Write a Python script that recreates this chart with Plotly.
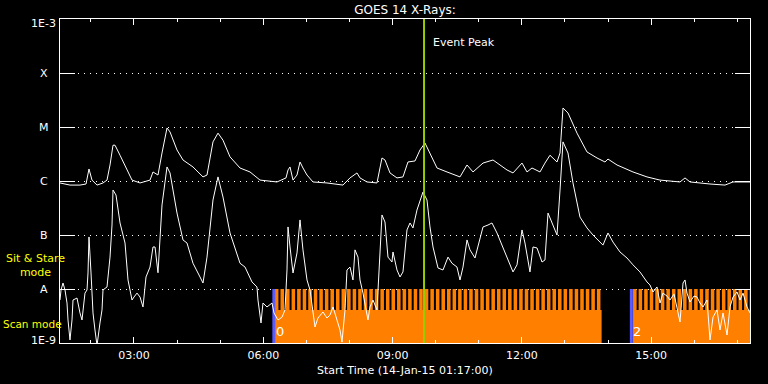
import numpy as np
import pandas as pd
import plotly.graph_objects as go

# ---------------- data (UT hours on 14-Jan-2015, flux in W/m^2) ----------------
BASE = pd.Timestamp("2015-01-14")
start_hour = 1 + 17 / 60          # 01:17:00
end_hour = 17.293

long_hours = [1.283, 1.515, 1.747, 1.887, 1.956, 2.026, 2.142, 2.281, 2.374, 2.444, 2.513, 2.560,
              2.676, 2.838, 2.954, 3.140, 3.372, 3.441, 3.557, 3.650, 3.766, 3.836, 3.998, 4.137,
              4.369, 4.601, 4.694, 4.833, 4.949, 5.065, 5.228, 5.460, 5.692, 5.924, 6.318, 6.527,
              6.574, 6.620, 6.690, 6.782, 6.852, 6.921, 7.014, 7.153, 7.478, 7.849, 8.012, 8.174,
              8.244, 8.406, 8.638, 8.754, 8.824, 8.940, 9.102, 9.241, 9.357, 9.520, 9.636, 9.752,
              9.868, 10.031, 10.263, 10.564, 10.727, 10.866, 11.098, 11.330, 11.655, 11.794, 12.003,
              12.119, 12.235, 12.421, 12.536, 12.652, 12.815, 12.885, 12.954, 13.070, 13.279, 13.511,
              13.743, 13.928, 13.998, 14.207, 14.578, 14.903, 15.205, 15.669, 15.785, 15.901, 16.365,
              16.713, 16.899, 17.293]
long_flux = [9.2e-7, 8.4e-7, 8.4e-7, 8.8e-7, 1.67e-6, 1.04e-6, 8.4e-7, 9.2e-7, 1.04e-6, 1.98e-6, 4.6e-6, 4.6e-6,
             3.0e-6, 1.60e-6, 1.04e-6, 9.2e-7, 1.04e-6, 1.47e-6, 1.29e-6, 3.3e-6, 9.6e-6, 8.1e-6, 3.75e-6, 2.45e-6,
             1.82e-6, 1.19e-6, 1.29e-6, 5.3e-6, 7.7e-6, 5.7e-6, 2.8e-6, 1.74e-6, 1.47e-6, 1.04e-6, 9.6e-7, 1.14e-6,
             1.60e-6, 1.82e-6, 1.04e-6, 1.29e-6, 2.25e-6, 1.74e-6, 1.29e-6, 9.6e-7, 9.2e-7, 8.4e-7, 1.14e-6, 1.41e-6,
             1.14e-6, 9.6e-7, 9.2e-7, 2.67e-6, 2.45e-6, 1.41e-6, 1.14e-6, 1.19e-6, 2.25e-6, 2.35e-6, 3.75e-6, 5.05e-6,
             3.3e-6, 1.74e-6, 1.47e-6, 1.19e-6, 1.98e-6, 1.47e-6, 2.15e-6, 2.45e-6, 1.60e-6, 1.41e-6, 2.15e-6,
             1.47e-6, 1.74e-6, 1.47e-6, 2.15e-6, 3.0e-6, 2.25e-6, 3.3e-6, 2.25e-5, 1.82e-5, 7.7e-6, 3.45e-6,
             2.67e-6, 2.25e-6, 2.55e-6, 1.98e-6, 1.47e-6, 1.19e-6, 1.04e-6, 9.6e-7, 1.14e-6, 9.6e-7, 8.8e-7,
             8.4e-7, 9.6e-7, 9.6e-7]

short_hours = [1.283, 1.307, 1.353, 1.399, 1.446, 1.469, 1.515, 1.562, 1.585, 1.678, 1.747, 1.794, 1.863,
               1.910, 1.933, 1.956, 2.003, 2.049, 2.095, 2.142, 2.211, 2.258, 2.281, 2.374, 2.444, 2.490,
               2.513, 2.583, 2.676, 2.792, 2.861, 2.907, 2.954, 3.000, 3.070, 3.140, 3.209, 3.279, 3.372,
               3.441, 3.488, 3.557, 3.650, 3.766, 3.836, 3.998, 4.137, 4.230, 4.369, 4.532, 4.601, 4.694,
               4.833, 4.949, 5.065, 5.228, 5.460, 5.576, 5.738, 5.854, 5.877, 5.947, 5.993, 6.086, 6.202,
               6.249, 6.341, 6.434, 6.504, 6.550, 6.574, 6.620, 6.690, 6.782, 6.852, 6.921, 7.014, 7.084,
               7.153, 7.200, 7.269, 7.385, 7.478, 7.548, 7.618, 7.710, 7.780, 7.826, 7.896, 7.942, 8.012,
               8.081, 8.128, 8.197, 8.244, 8.313, 8.406, 8.429, 8.476, 8.545, 8.638, 8.708, 8.754, 8.824,
               8.893, 8.986, 9.009, 9.102, 9.172, 9.241, 9.334, 9.404, 9.473, 9.566, 9.636, 9.705, 9.798,
               9.868, 9.938, 10.054, 10.170, 10.286, 10.378, 10.494, 10.564, 10.634, 10.727, 10.796, 10.912,
               10.982, 11.098, 11.214, 11.306, 11.422, 11.655, 11.794, 11.887, 12.003, 12.072, 12.188,
               12.258, 12.351, 12.467, 12.536, 12.606, 12.722, 12.815, 12.885, 12.954, 13.070, 13.186,
               13.348, 13.511, 13.650, 13.812, 13.882, 13.998, 14.114, 14.276, 14.439, 14.578, 14.740,
               14.903, 14.972, 15.042, 15.135, 15.205, 15.274, 15.367, 15.437, 15.530, 15.600, 15.669,
               15.739, 15.785, 15.832, 15.901, 15.994, 16.063, 16.133, 16.203, 16.296, 16.365, 16.435,
               16.528, 16.597, 16.667, 16.760, 16.829, 16.899, 16.992, 17.061, 17.131, 17.224, 17.293]
short_flux = [6.25e-9, 9.6e-9, 1.29e-8, 9.6e-9, 5.5e-9, 2.67e-9, 1.14e-9, 2.67e-9, 6.25e-9, 6.8e-9, 3.6e-9, 2.67e-9, 8.4e-9,
              9.6e-9, 1.98e-8, 9.2e-8, 1.98e-8, 3.6e-9, 1.74e-9, 9e-10, 2.35e-9, 4.1e-9, 9.6e-9, 1.09e-8, 3.9e-8, 1.53e-7,
              6.8e-7, 5.5e-7, 1.67e-7, 7.1e-8, 1.47e-8, 9.6e-9, 6.25e-9, 7.1e-9, 8.4e-9, 7.1e-9, 4.65e-9, 1.67e-8, 2.55e-8,
              6.0e-8, 6.0e-8, 2.0e-8, 3.6e-7, 1.82e-6, 1.41e-6, 2.55e-7, 8.1e-8, 7.1e-8, 3.0e-8, 1.67e-8, 1.29e-8, 3.9e-8,
              4.45e-7, 1.19e-6, 5.05e-7, 1.09e-7, 3.0e-8, 2.55e-8, 1.35e-8, 1.09e-8, 6.25e-9, 2.35e-9, 5.5e-9, 4.65e-9, 5.5e-9,
              3.6e-9, 2.67e-9, 3.0e-9, 4.1e-9, 2.25e-8, 1.41e-7, 6.0e-8, 1.98e-8, 4.65e-8, 1.9e-7, 5.3e-8, 1.47e-8, 9.6e-9,
              3.3e-9, 1.98e-9, 2.9e-9, 3.75e-9, 2.9e-9, 3.3e-9, 4.65e-9, 2.67e-9, 1.74e-9, 1.04e-9, 4.1e-9, 2.25e-8, 2.55e-8,
              1.47e-8, 5.3e-8, 3.9e-8, 1.47e-8, 8.4e-9, 3.6e-9, 2.67e-9, 4.65e-9, 6.25e-9, 4.1e-9, 3.45e-8, 2.35e-7, 1.74e-7,
              3.9e-8, 3.16e-8, 4.85e-8, 2.25e-8, 1.67e-8, 2.07e-8, 1.24e-7, 1.67e-7, 1.35e-7, 2.9e-7, 4.45e-7, 6.25e-7, 4.45e-7,
              1.41e-7, 6.0e-8, 2.45e-8, 2.25e-8, 3.9e-8, 3.0e-8, 2.55e-8, 1.47e-8, 2.55e-8, 8.1e-8, 5.3e-8, 3.75e-8,
              6.0e-8, 1.41e-7, 1.53e-7, 1.67e-7, 1.09e-7, 3.9e-8, 2.07e-8, 2.8e-8, 1.24e-7, 7.1e-8, 2.07e-8,
              6.0e-8, 5.75e-8, 3.16e-8, 3.45e-8, 2.55e-7, 1.53e-7, 1.0e-7, 6.8e-7, 5.3e-6, 3.3e-6, 9.2e-7,
              2.15e-7, 1.35e-7, 1.0e-7, 7.4e-8, 6.5e-8, 1.09e-7, 7.4e-8, 4.85e-8, 3.75e-8, 2.8e-8, 2.07e-8,
              1.35e-8, 1.19e-8, 8.8e-9, 1.09e-8, 5.5e-9, 8.4e-9, 7.4e-9, 6.25e-9, 8.1e-9, 4.65e-9, 2.45e-9,
              1.29e-8, 1.47e-8, 8.4e-9, 5.75e-9, 7.4e-9, 7.1e-9, 5.5e-9, 4.65e-9, 6.25e-9, 1.14e-9, 3.0e-9,
              4.1e-9, 1.74e-9, 3.6e-9, 1.41e-9, 4.65e-9, 7.1e-9, 8.8e-9, 6.25e-9, 8.4e-9, 4.65e-9, 3.6e-9]

event_peak_hour = 9.73

# scan-mode blocks (UT hours) and scan cadence
scan_start_h = [6.27, 14.58]
scan_end_h = [13.85, 17.35]
scan_marker_h = [6.245, 14.54]
scan_marker_labels = ["0", "2"]
scan_cadence_h = 0.1288
scan_on_h = 0.082

ytick_vals = [1e-9, 1e-8, 1e-7, 1e-6, 1e-5, 1e-4, 1e-3]
ytick_text = ["1E-9", "A", "B", "C", "M", "X", "1E-3"]

# ---------------- styling constants ----------------
FONT = "DejaVu Sans"
ORANGE = "#ff8000"
BLUE = "#5a5aff"
GREEN = "#99cc00"
YELLOW = "#ffff00"
A_LEVEL = 1e-8
SOLID_TOP = 4.1e-9
FLOOR = 8e-10


def t(hours):
    return [None if h is None else BASE + pd.Timedelta(hours=h) for h in hours]


fig = go.Figure()

# orange scan-mode blocks
xs, ys = [], []
for s, e in zip(scan_start_h, scan_end_h):
    xs += [s, e, e, s, s, None]
    ys += [FLOOR, FLOOR, SOLID_TOP, SOLID_TOP, FLOOR, None]
    k = 0
    while s + k * scan_cadence_h < e:
        a = s + k * scan_cadence_h
        b = min(a + scan_on_h, e)
        xs += [a, b, b, a, a, None]
        ys += [SOLID_TOP * 0.98, SOLID_TOP * 0.98, A_LEVEL, A_LEVEL, SOLID_TOP * 0.98, None]
        k += 1
fig.add_trace(go.Scatter(x=t(xs), y=ys, mode="lines", fill="toself", fillcolor=ORANGE,
                         line=dict(width=0, color=ORANGE), hoverinfo="skip"))

# blue scan markers
for h in scan_marker_h:
    fig.add_trace(go.Scatter(x=t([h, h]), y=[FLOOR, A_LEVEL], mode="lines",
                             line=dict(color=BLUE, width=3), hoverinfo="skip"))

# GOES curves
fig.add_trace(go.Scatter(x=t(long_hours), y=long_flux, mode="lines",
                         line=dict(color="white", width=1)))
fig.add_trace(go.Scatter(x=t(short_hours), y=short_flux, mode="lines",
                         line=dict(color="white", width=1)))

# event peak line
fig.add_trace(go.Scatter(x=t([event_peak_hour, event_peak_hour]), y=[FLOOR, 2e-3], mode="lines",
                         line=dict(color=GREEN, width=2), hoverinfo="skip"))

annotations = []
# y tick labels centred in left margin
for v, txt in zip(ytick_vals, ytick_text):
    shift = -4 if v == 1e-3 else (3 if v == 1e-9 else 0)
    annotations.append(dict(x=-0.0232, xref="paper", y=np.log10(v), yref="y", text=txt,
                            showarrow=False, xanchor="center", yanchor="middle", yshift=shift,
                            font=dict(family=FONT, size=11, color="white")))
# mode labels
annotations.append(dict(x=-0.0355, xref="paper", y=np.log10(2.78e-8), yref="y",
                        text="Sit & Stare<br>mode", showarrow=False, xanchor="center",
                        yanchor="middle", font=dict(family=FONT, size=11, color=YELLOW)))
annotations.append(dict(x=-0.0855, xref="paper", y=np.log10(2.25e-9), yref="y",
                        text="Scan mode", showarrow=False, xanchor="left",
                        yanchor="middle", font=dict(family=FONT, size=10.5, color=YELLOW)))
# block labels
for h, lab in zip(scan_marker_h, scan_marker_labels):
    annotations.append(dict(x=BASE + pd.Timedelta(hours=h), y=np.log10(1.6e-9), xref="x", yref="y",
                            text=lab, showarrow=False, xanchor="left", yanchor="middle", xshift=0,
                            font=dict(family=FONT, size=13, color="white")))
# event peak label
annotations.append(dict(x=BASE + pd.Timedelta(hours=event_peak_hour), y=np.log10(3.6e-4),
                        xref="x", yref="y", text="Event Peak", showarrow=False,
                        xanchor="left", yanchor="middle", xshift=7,
                        font=dict(family=FONT, size=11, color="white")))
# x axis title
annotations.append(dict(x=0.5, xref="paper", y=0, yref="paper", yshift=-27,
                        text="Start Time (14-Jan-15 01:17:00)", showarrow=False,
                        xanchor="center", yanchor="middle",
                        font=dict(family=FONT, size=11, color="white")))

fig.update_layout(
    width=768, height=384,
    margin=dict(l=60, r=18, t=19, b=41),
    paper_bgcolor="black", plot_bgcolor="black",
    showlegend=False,
    title=dict(text="GOES 14 X-Rays:", x=0.5, xref="paper", y=1 - 10 / 384, yref="container",
               xanchor="center", yanchor="middle",
               font=dict(family=FONT, size=12, color="white")),
    annotations=annotations,
    xaxis=dict(
        type="date",
        range=[BASE + pd.Timedelta(hours=start_hour), BASE + pd.Timedelta(hours=end_hour)],
        showgrid=False, zeroline=False,
        showline=True, linecolor="white", linewidth=1, mirror="ticks",
        ticks="inside", ticklen=6, tickcolor="white", tickwidth=1,
        dtick=3 * 3600000, tickformat="%H:%M",
        tickfont=dict(family=FONT, size=11, color="white"),
        ticklabelstandoff=2,
        minor=dict(dtick=3600000, ticks="inside", ticklen=3, tickcolor="white", showgrid=False),
    ),
    yaxis=dict(
        type="log", range=[-9, -3],
        tickvals=ytick_vals, showticklabels=False,
        ticks="inside", ticklen=15, tickcolor="white", tickwidth=1,
        showgrid=True, gridcolor="white", gridwidth=1, griddash="1px,5px",
        showline=True, linecolor="white", linewidth=1, mirror="ticks",
        zeroline=False,
    ),
)

fig.write_html("out.html")
